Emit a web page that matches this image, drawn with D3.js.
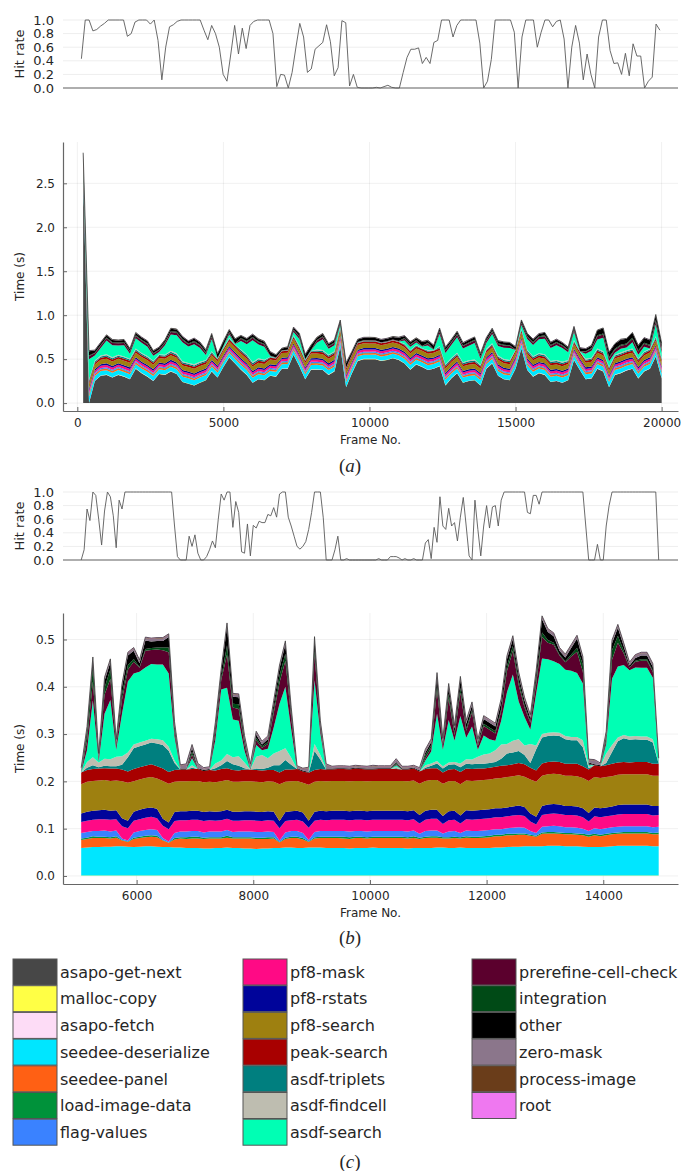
<!DOCTYPE html>
<html>
<head>
<meta charset="utf-8">
<script src="https://cdn.jsdelivr.net/npm/d3@7"></script>
<style>
  body { margin: 0; background: #fff; }
  svg text { font-family: "DejaVu Sans", sans-serif; fill: #262626; }
</style>
</head>
<body>
<svg id="fig" width="682" height="1171"></svg>
<script>
// ---- legend / series names and colours ----
var keys = ["asapo-get-next", "malloc-copy", "asapo-fetch", "seedee-deserialize", "seedee-panel",
  "load-image-data", "flag-values", "pf8-mask", "pf8-rstats", "pf8-search", "peak-search",
  "asdf-triplets", "asdf-findcell", "asdf-search", "prerefine-cell-check", "integration",
  "other", "zero-mask", "process-image", "root"];
var colors = ["#474747", "#ffff45", "#fddcf6", "#00e6ff", "#ff6014", "#00923a", "#3a82ff",
  "#ff0a85", "#00049a", "#9e8010", "#a80000", "#007f7f", "#bebdb0", "#00ffb4", "#5b002d",
  "#004a16", "#000000", "#8b768b", "#6a3d1a", "#ef78f0"];

// ---- panel (a): hit rate, 152 samples between frame 140 and 19940 ----
var hitA = [.43,1,1,.84,.86,.91,.95,1,1,1, 1,1,.76,.8,.97,1,1,1,.94,1,
  .7,.12,.6,.9,.93,.98,1,1,1,1, 1,1,.85,.71,.92,.8,.6,.2,.1,.5,
  .92,.5,.88,.58,.92,.98,1,1,1,1, .8,.02,.2,.19,0,.23,.6,.95,.75,.23,
  .28,.57,.62,.67,.93,.68,.18,.3,.99,.96, .03,.2,.01,0,0,0,0,.01,0,.02,
  .04,.01,0,0,.23,.45,.57,.57,.59,.36, .45,.36,.67,.7,1,1,1,.75,.92,1,
  1,1,1,1,.66,0,.1,.42,1,1, 1,1,1,.82,0,.75,1,1,1,.6,
  .82,1,1,.9,.98,1,.72,0,.6,.92, .66,.12,.5,.2,0,.75,1,1,.55,.36,
  .37,.2,.51,.18,.65,.47,.47,0,.1,.16, .94,.85];

// ---- panel (a): time per stage in ms, frames 200..20000 step 200 ----
var aGetNext = [2600,0,250,310,320,290,320,300,270,390, 340,300,250,330,320,360,330,240,220,200,
  230,260,360,290,410,520,450,380,320,230, 270,260,310,300,390,390,550,420,270,380,
  380,375,320,360,640,180,340,480,500,500, 500,480,490,510,490,450,380,440,410,375,
  390,420,200,280,340,230,250,260,200,390, 450,310,270,260,390,620,375,300,340,320,
  240,250,230,260,490,375,270,280,390,360, 180,320,340,370,390,280,360,390,530,280];
var aMallocCopy = [3,2,2,2,3,2,2,2,2,3, 2,2,2,3,2,2,2,2,2,2, 3,2,2,2,2,3,2,2,2,2, 2,2,3,2,2,2,2,3,2,2,
  2,2,2,2,3,2,2,2,2,2, 2,3,2,2,2,2,2,2,3,2, 2,2,2,2,2,3,2,2,2,2, 3,2,2,2,2,2,2,3,2,2,
  2,2,2,2,3,2,2,2,2,2, 2,3,2,2,2,2,2,2,3,2];
var aAsapoFetch = [2,3,2,2,2,2,3,2,2,2, 2,2,2,2,3,2,2,2,2,2, 2,2,3,2,2,2,2,2,3,2, 2,2,2,2,2,3,2,2,2,2,
  3,2,2,2,2,2,2,3,2,2, 2,2,2,2,3,2,2,2,2,2, 2,2,3,2,2,2,2,2,2,3, 2,2,2,2,2,2,3,2,2,2,
  2,3,2,2,2,2,2,2,3,2, 2,2,2,3,2,2,2,2,2,2];
var aDeserialize = [45,70,55,50,48,50,52,50,55,48, 50,52,55,50,48,50,52,55,58,56,
  55,52,48,55,50,45,48,50,52,55, 55,52,50,52,48,50,45,50,55,50,
  50,48,52,50,45,55,50,48,46,46, 48,46,48,46,48,50,52,50,50,52,
  50,48,60,52,50,55,55,52,58,50, 48,50,52,52,50,45,50,52,50,52,
  55,55,56,54,48,50,55,54,50,50, 58,52,52,50,50,52,50,50,45,52];
var aPanel = [16,20,18,18,17,18,19,18,17,18, 18,19,17,18,18,17,19,18,18,17,
  18,18,19,17,18,19,18,18,17,18, 19,18,18,17,18,18,19,18,17,18,
  18,18,17,18,19,17,18,18,18,17, 18,17,18,18,18,19,18,17,18,18,
  18,19,17,18,18,17,18,19,18,18, 18,18,17,18,18,19,18,18,17,18,
  19,18,18,17,18,18,18,19,18,18, 17,18,18,18,19,18,17,18,18,18];
var aLoadImage = [4,5,4,4,4,5,4,4,4,4, 4,4,5,4,4,4,4,5,4,4, 4,4,4,4,5,4,4,4,4,4, 5,4,4,4,4,4,5,4,4,4,
  4,4,4,5,4,4,4,4,4,5, 4,4,4,4,4,4,5,4,4,4, 4,5,4,4,4,4,4,4,5,4, 4,4,4,4,5,4,4,4,4,4,
  4,4,5,4,4,4,4,4,5,4, 4,4,4,5,4,4,4,4,4,4];
var aFlagValues = [12,15,13,13,14,13,12,13,13,14, 13,13,12,13,14,13,13,12,13,13,
  14,13,13,12,13,13,14,13,13,12, 13,13,14,13,12,13,13,13,14,13,
  13,12,13,13,14,12,13,13,13,13, 12,13,13,13,13,14,13,13,12,13,
  13,13,14,13,13,12,13,13,13,13, 14,13,13,12,13,13,13,14,13,13,
  13,12,13,13,13,14,13,13,12,13, 13,13,14,13,13,12,13,13,14,13];
var aPf8Mask = [24,28,25,25,26,25,24,25,26,25, 25,24,26,25,25,26,24,25,25,26,
  25,25,24,26,25,25,24,25,26,25, 24,25,25,26,25,24,25,26,25,25,
  26,25,24,25,25,27,25,24,25,25, 25,24,25,25,26,25,25,24,25,26,
  25,25,24,25,26,25,25,24,26,25, 25,26,25,24,25,25,26,25,24,25,
  25,26,25,25,24,25,25,26,25,25, 24,25,26,25,25,24,25,25,26,25];
var aPf8Rstats = [16,19,17,17,18,17,16,17,18,17, 17,18,17,16,17,18,17,17,16,17,
  18,17,17,16,17,18,17,17,17,16, 17,18,17,17,16,17,18,17,17,17,
  16,17,18,17,17,18,17,16,17,17, 17,18,17,17,16,17,17,18,17,17,
  16,17,17,18,17,17,16,17,18,17, 17,17,16,17,18,17,17,17,16,17,
  18,17,17,16,17,17,18,17,17,16, 17,17,18,17,16,17,17,18,17,17];
var aPf8Search = [50,55,52,52,53,52,51,52,53,52, 52,53,51,52,52,53,52,51,52,53,
  52,52,53,51,52,52,53,52,51,52, 53,52,52,51,52,53,52,52,51,52,
  52,53,52,51,52,54,52,52,53,52, 51,52,52,53,52,52,51,52,53,52,
  52,51,53,52,52,53,52,51,52,52, 53,52,52,51,52,53,52,52,51,52,
  52,53,52,52,51,52,52,53,52,51, 52,52,53,52,52,51,52,53,52,52];
var aPeakSearch = [21,24,22,22,23,22,21,22,22,23, 22,22,21,22,23,22,22,21,22,22,
  23,22,22,21,22,22,23,22,22,21, 22,23,22,22,21,22,22,23,22,22,
  21,22,22,23,22,22,21,22,22,23, 22,22,21,22,22,23,22,22,21,22,
  22,23,22,22,21,22,22,23,22,22, 21,22,22,22,23,22,22,21,22,22,
  23,22,22,21,22,22,22,23,22,22, 21,22,22,23,22,22,21,22,22,22];
var aTriplets = [4,15,14,15,16,15,15,16,14,15, 15,16,14,12,15,16,17,16,15,17,
  16,14,15,5,6,12,5,15,16,18, 16,15,6,4,4,4,10,14,5,5,
  14,15,14,14,12,4,4,4,4,4, 4,4,4,4,4,10,10,10,5,12,
  5,15,16,15,16,15,16,17,12,12, 15,15,16,15,4,12,15,16,16,17,
  16,17,16,14,15,4,13,14,15,16, 14,13,14,13,15,14,14,12,16,14];
var aFindcell = [3,10,10,10,11,10,10,10,9,10, 10,10,9,8,10,11,12,11,10,12,
  11,9,10,3,4,8,3,10,10,12, 11,10,4,3,3,3,8,10,3,3,
  10,10,10,10,8,3,3,3,3,3, 3,3,3,3,3,8,8,8,3,9,
  3,10,11,10,11,10,11,12,9,9, 10,10,11,10,3,8,10,10,11,12,
  11,12,11,10,10,3,9,10,10,11, 10,9,10,9,10,10,10,8,11,10];
var aAsdfSearch = [0,232,57,87,157,137,107,127,57,117, 117,107,57,27,107,187,207,217,187,227,
  157,57,137,5,20,37,10,97,117,247, 157,147,10,0,0,0,37,77,10,5,
  77,122,67,67,27,0,0,0,0,0, 0,0,0,0,0,37,37,27,20,52,
  5,137,127,147,177,157,167,187,67,67, 107,107,127,137,0,47,122,127,157,177,
  147,167,157,87,92,0,57,77,103,153, 63,23,43,33,73,43,53,3,133,63];
var aPrerefine = [3,35,25,25,26,25,25,26,24,25, 25,26,24,22,25,27,28,27,26,28,
  26,24,25,3,3,22,3,25,26,28, 26,25,3,3,3,3,22,25,3,3,
  25,26,24,24,22,3,3,3,3,3, 3,3,3,3,3,20,20,20,3,22,
  3,26,27,26,27,26,27,28,24,24, 25,25,26,25,3,22,25,26,27,28,
  26,27,26,24,25,3,24,25,35,36, 34,33,35,34,36,35,34,33,37,35];
var aIntegration = [2,8,8,8,9,8,8,9,7,8, 8,9,7,6,8,9,10,9,8,10,
  9,7,8,2,2,6,2,8,9,10, 9,8,2,2,2,2,6,8,2,2,
  8,9,7,7,6,2,2,2,2,2, 2,2,2,2,2,6,6,6,2,7,
  2,8,9,8,9,8,9,10,7,7, 8,8,9,8,2,6,8,9,9,10,
  9,10,9,8,8,2,7,8,12,13, 12,11,12,11,13,12,12,10,14,12];
var aOther = [38,50,24,26,25,27,24,26,23,27, 25,26,24,22,25,28,27,26,25,28,
  26,24,27,43,48,24,48,25,26,28, 26,25,38,28,18,28,24,26,48,53,
  25,27,24,26,22,48,28,28,28,30, 28,27,28,29,38,24,25,23,48,25,
  43,27,26,25,27,26,28,27,24,25, 26,25,27,26,28,24,26,27,25,28,
  26,27,25,24,26,33,24,25,55,58, 52,54,56,53,57,55,54,52,58,55];
var aZeroMask = [3,4,3,3,3,4,3,3,3,3, 4,3,3,3,3,4,3,3,3,3, 3,4,3,3,3,3,4,3,3,3, 3,3,4,3,3,3,3,4,3,3,
  3,3,3,4,3,3,3,3,4,3, 3,3,3,3,4,3,3,3,3,4, 3,3,3,3,3,4,3,3,3,3, 4,3,3,3,3,3,4,3,3,3,
  3,4,3,3,3,3,3,4,3,3, 3,3,4,3,3,3,3,3,4,3];
var aProcessImage = [1,1,1,1,1,1,1,1,1,1, 1,1,1,1,1,1,1,1,1,1, 1,1,1,1,1,1,1,1,1,1, 1,1,1,1,1,1,1,1,1,1,
  1,1,1,1,1,1,1,1,1,1, 1,1,1,1,1,1,1,1,1,1, 1,1,1,1,1,1,1,1,1,1, 1,1,1,1,1,1,1,1,1,1,
  1,1,1,1,1,1,1,1,1,1, 1,1,1,1,1,1,1,1,1,1];
var aRoot = [1,1,1,1,1,1,1,1,1,1, 1,1,1,1,1,1,1,1,1,1, 1,1,1,1,1,1,1,1,1,1, 1,1,1,1,1,1,1,1,1,1,
  1,1,1,1,1,1,1,1,1,1, 1,1,1,1,1,1,1,1,1,1, 1,1,1,1,1,1,1,1,1,1, 1,1,1,1,1,1,1,1,1,1,
  1,1,1,1,1,1,1,1,1,1, 1,1,1,1,1,1,1,1,1,1];

// ---- panel (b): hit rate, frames 5050..14950 step 50 ----
var hitB = [0,.15,.75,.58,1,.95,.6,.22,.72,1, .93,.65,.18,.88,.75,1,1,1,1,1,
  1,1,1,1,1,1,1,1,1,1, 1,1,.5,.05,0,0,0,.35,.2,.37,
  .1,0,0,.05,.15,.28,.18,.6,.97,.88, 1,1,.48,.86,.7,.12,.1,.53,.06,.51,
  .47,.57,.55,.55,.67,.65,.77,.63,.97,1, 1,.63,.5,.35,.2,.16,.2,.27,.45,.7,
  1,1,1,.62,0,0,0,.15,.35,0, 0,.02,0,0,0,0,0,0,0,0,
  0,0,.02,0,0,0,.05,.05,.05,.03, 0,.02,0,0,.02,0,0,0,.25,.3,
  .02,.48,.26,.93,.5,.45,.76,.5,.55,.28, .63,.92,.5,.06,0,.88,.45,.06,.5,.8,
  .47,.78,.8,.5,.88,1,1,1,1,1, 1,1,1,.7,.68,.95,.95,.82,1,1,
  1,1,1,1,1,1,1,1,1,1, 1,1,1,.5,0,0,0,.23,0,0,
  .5,.8,1,1,1,1,1,1,1,1, 1,1,1,1,1,1,1,1,0];

// ---- panel (b): time per stage in ms, frames 5050..14950 step 100 ----
var bGetNext = [0,0,0,0,0,0,0,0,0,0, 0,0,0,0,0,0,0,0,0,0, 0,0,0,0,0,0,0,0,0,0, 0,0,0,0,0,0,0,0,0,0,
  0,0,0,0,0,0,0,0,0,0, 0,0,0,0,0,0,0,0,0,0, 0,0,0,0,0,0,0,0,0,0, 0,0,0,0,0,0,0,0,0,0,
  0,0,0,0,0,0,0,0,0,0, 0,0,0,0,0,0,0,0,0,0];
var bMallocCopy = [1,1,1,1,1,1,1,1,1,1, 1,1,1,1,1,1,1,1,1,1, 1,1,1,1,1,1,1,1,1,1, 1,1,1,1,1,1,1,1,1,1,
  1,1,1,1,1,1,1,1,1,1, 1,1,1,1,1,1,1,1,1,1, 1,1,1,1,1,1,1,1,1,1, 1,1,1,1,1,1,1,1,1,1,
  1,1,1,1,1,1,1,1,1,1, 1,1,1,1,1,1,1,1,1,1];
var bAsapoFetch = [0,0,0,0,0,0,0,0,0,0, 0,0,0,0,0,0,0,0,0,0, 0,0,0,0,0,0,0,0,0,0, 0,0,0,0,0,0,0,0,0,0,
  0,0,0,0,0,0,0,0,0,0, 0,0,0,0,0,0,0,0,0,0, 0,0,0,0,0,0,0,0,0,0, 0,0,0,0,0,0,0,0,0,0,
  0,0,0,0,0,0,0,0,0,0, 0,0,0,0,0,0,0,0,0,0];
var bDeserialize = [58,59,60,60,61,61,62,62,61,60, 61,62,62,61,60,60,59,59,58,58,
  58,57,57,58,58,59,58,58,57,57, 56,57,57,58,58,59,59,58,58,59,
  59,59,58,58,58,58,57,58,58,58, 59,58,58,58,58,58,57,58,58,58,
  58,59,59,58,58,59,58,58,58,58, 58,59,59,60,61,61,62,62,62,62,
  63,63,63,62,62,62,61,60,60,60, 61,62,63,63,63,63,63,63,62,62];
var bPanel = [17,18,19,19,18,17,18,12,10,17, 18,19,20,20,14,9,17,19,19,20,
  20,20,21,20,20,21,20,20,21,21, 21,20,20,20,12,18,20,21,18,12,
  19,20,21,21,21,20,20,21,21,20, 20,21,21,21,21,21,21,21,19,21,
  22,21,19,20,21,19,22,21,21,22, 23,24,24,25,24,25,24,22,20,26,
  26,26,25,25,25,24,24,22,25,23, 24,25,25,26,26,26,26,26,25,25];
var bLoadImage = [3,3,4,3,3,3,3,1,1,3, 3,3,3,3,1,1,3,3,4,4, 4,3,3,3,3,4,3,3,3,3, 3,3,4,3,1,3,3,3,3,1,
  3,3,3,3,3,4,4,3,3,3, 3,3,3,3,3,3,3,4,3,3, 3,3,3,3,3,3,3,3,3,3, 3,3,3,3,3,3,3,2,2,3,
  3,3,3,3,3,3,3,4,3,3, 3,3,3,3,3,3,3,3,3,4];
var bFlagValues = [12,12,11,12,13,12,12,3,2,11, 12,12,13,12,4,2,11,12,12,12,
  12,11,12,12,12,12,11,12,12,12, 12,12,12,11,3,11,12,12,11,3,
  11,12,12,12,12,12,12,12,12,12, 12,12,12,12,12,12,12,12,8,12,
  12,12,8,12,12,9,12,12,12,12, 12,12,12,12,13,13,12,8,6,12,
  12,13,13,12,12,12,11,8,12,12, 12,12,12,12,12,12,12,12,12,12];
var bPf8Mask = [23,24,24,25,24,25,24,26,26,25, 25,26,26,25,26,26,25,24,24,24,
  24,24,24,23,24,24,24,23,24,24, 24,23,24,24,26,24,23,24,24,26,
  24,24,23,24,24,24,24,24,24,24, 24,24,24,24,24,24,24,24,22,24,
  25,25,20,24,24,20,24,24,25,25, 25,25,25,25,26,26,25,20,18,25,
  26,26,26,26,26,26,24,20,25,25, 25,25,26,26,26,26,26,26,25,25];
var bPf8Rstats = [18,19,19,19,20,19,19,17,16,19, 20,20,20,20,15,14,19,19,19,19,
  19,19,19,19,19,19,19,19,19,19, 19,19,19,19,15,19,19,19,19,15,
  19,19,19,19,19,19,19,19,19,19, 19,19,19,19,19,19,19,19,18,19,
  19,19,17,19,19,17,19,19,19,19, 19,19,19,19,19,20,19,17,16,19,
  20,20,20,19,19,19,19,18,19,19, 19,19,20,20,20,20,20,20,20,19];
var bPf8Search = [62,63,63,63,63,63,63,78,80,64, 64,64,64,64,80,82,64,63,63,63,
  63,63,62,62,63,63,63,63,63,63, 63,63,63,63,78,64,63,63,63,76,
  63,63,63,63,63,63,63,63,63,63, 63,63,63,63,63,63,63,63,66,63,
  63,63,68,63,63,66,63,63,63,63, 63,63,64,64,64,64,64,72,74,64,
  64,64,64,64,64,64,64,68,64,64, 64,64,64,64,64,64,64,64,64,64];
var bPeakSearch = [25,25,25,25,25,26,25,25,24,26, 26,26,27,26,26,25,25,25,25,25,
  25,24,25,25,26,25,25,24,25,25, 25,25,24,25,25,26,25,25,24,25,
  25,25,25,24,25,25,25,26,25,25, 24,25,25,25,25,24,25,25,26,25,
  25,25,24,25,25,26,25,25,25,24, 25,25,26,25,25,26,26,25,24,26,
  26,26,26,25,25,26,25,24,25,25, 25,26,26,26,25,26,26,26,25,25];
var bTriplets = [0,5,8,3,5,5,5,10,30,44, 44,45,46,48,50,45,15,0,0,3,
  0,0,0,5,8,15,12,10,3,0, 3,3,5,10,15,20,10,0,0,0,
  40,20,0,0,0,0,0,0,0,0, 0,0,0,0,2,0,0,0,0,3,
  5,10,8,10,10,10,10,10,10,10, 10,10,15,25,25,25,20,10,45,55,
  55,55,55,52,50,50,40,3,0,0, 5,25,45,50,48,48,47,47,45,0];
var bFindcell = [0,12,17,10,15,15,20,18,10,8, 8,8,8,9,10,8,5,0,0,5,
  0,0,0,10,10,15,15,20,12,0, 25,30,20,25,30,25,15,0,0,0,
  15,10,0,0,0,0,0,0,0,0, 0,0,0,0,3,0,0,0,0,5,
  5,5,5,5,5,8,10,10,15,20, 20,25,30,20,25,25,20,40,8,7,
  7,7,7,7,7,7,15,4,0,0, 20,15,8,7,7,7,7,7,7,0];
var bAsdfSearch = [0,25,120,2,95,125,15,90,150,150, 150,155,158,158,160,155,50,0,0,15,
  0,0,0,50,150,140,80,75,25,0, 25,10,20,55,100,130,60,0,0,0,
  135,45,0,0,0,0,0,0,0,0, 0,0,0,0,3,0,0,0,0,10,
  25,100,35,90,45,100,45,70,15,40, 30,20,50,110,140,80,60,30,110,160,
  155,150,145,140,140,135,120,3,0,0, 20,140,150,148,140,145,145,145,130,0];
var bPrerefine = [0,20,40,5,40,45,8,30,25,25, 8,35,30,32,30,45,10,0,0,8,
  0,0,0,15,20,70,25,25,12,0, 10,5,10,30,45,55,25,0,0,0,
  55,10,0,0,0,0,0,0,0,0, 0,0,0,0,2,0,0,0,0,5,
  8,50,8,45,12,50,15,30,8,20, 20,15,20,45,50,35,20,15,20,45,
  35,35,18,16,30,45,25,2,0,0, 8,40,50,25,5,12,15,15,12,0];
var bIntegration = [0,13,30,2,15,20,4,12,10,6, 2,4,4,4,6,10,5,0,0,6,
  0,0,0,5,5,20,8,10,5,0, 5,3,4,8,15,15,5,0,0,0,
  10,3,0,0,0,0,0,0,0,0, 0,0,0,0,3,0,0,0,0,7,
  6,10,4,10,5,10,5,5,3,5, 5,5,5,10,10,8,5,3,10,10,
  6,4,2,2,4,8,15,1,0,0, 7,20,15,5,1,2,3,3,3,0];
var bOther = [2,10,15,3,15,15,3,15,20,17, 8,18,14,14,14,22,10,2,2,8,
  2,2,2,10,12,40,15,15,8,2, 7,4,6,12,15,20,10,2,2,2,
  20,7,2,2,2,2,2,2,2,2, 2,2,2,2,2,2,2,2,2,5,
  6,20,5,15,8,17,10,10,4,10, 10,10,15,15,15,12,10,7,12,28,
  17,14,8,8,14,20,10,2,2,2, 5,15,17,10,4,6,8,8,8,2];
var bZeroMask = [6,5,5,5,5,5,5,5,5,5, 5,5,5,5,5,5,5,6,8,5, 8,3,3,5,5,5,5,5,5,8, 5,5,5,5,5,5,5,3,3,8,
  5,5,8,3,3,3,3,3,3,3, 5,3,3,3,5,3,3,3,4,5, 5,5,5,5,5,5,5,5,5,5, 5,5,5,5,5,5,5,5,5,5,
  5,5,5,5,5,5,5,5,8,3, 5,5,5,5,5,5,5,5,5,8];
var bProcessImage = [1,1,1,1,1,1,1,1,1,1, 1,1,1,1,1,1,1,1,1,1, 1,1,1,1,1,1,1,1,1,1, 1,1,1,1,1,1,1,1,1,1,
  1,1,1,1,1,1,1,1,1,1, 1,1,1,1,1,1,1,1,1,1, 1,1,1,1,1,1,1,1,1,1, 1,1,1,1,1,1,1,1,1,1,
  1,1,1,1,1,1,1,1,1,1, 1,1,1,1,1,1,1,1,1,1];
var bRoot = [1,1,1,1,1,1,1,1,1,1, 1,1,1,1,1,1,1,1,1,1, 1,1,1,1,1,1,1,1,1,1, 1,1,1,1,1,1,1,1,1,1,
  1,1,1,1,1,1,1,1,1,1, 1,1,1,1,1,1,1,1,1,1, 1,1,1,1,1,1,1,1,1,1, 1,1,1,1,1,1,1,1,1,1,
  1,1,1,1,1,1,1,1,1,1, 1,1,1,1,1,1,1,1,1,1];

var framesA = d3.range(200, 20001, 200);
var framesB = d3.range(5050, 14951, 100);
var hitFramesA = d3.range(hitA.length).map(function(i) { return 140 + i * 19800 / (hitA.length - 1); });
var hitFramesB = d3.range(5050, 14951, 50);

var colsA = [aGetNext, aMallocCopy, aAsapoFetch, aDeserialize, aPanel, aLoadImage, aFlagValues,
  aPf8Mask, aPf8Rstats, aPf8Search, aPeakSearch, aTriplets, aFindcell, aAsdfSearch,
  aPrerefine, aIntegration, aOther, aZeroMask, aProcessImage, aRoot];
var colsB = [bGetNext, bMallocCopy, bAsapoFetch, bDeserialize, bPanel, bLoadImage, bFlagValues,
  bPf8Mask, bPf8Rstats, bPf8Search, bPeakSearch, bTriplets, bFindcell, bAsdfSearch,
  bPrerefine, bIntegration, bOther, bZeroMask, bProcessImage, bRoot];

var svg = d3.select("#fig");
svg.append("rect").attr("width", 682).attr("height", 1171).attr("fill", "#fff");

function table(frames, cols) {
  return frames.map(function(f, i) {
    var r = { frame: f };
    keys.forEach(function(k, j) { r[k] = cols[j][i] / 1000; });
    return r;
  });
}

var left = 63, right = 678;

// hit-rate strip above each stacked chart
function drawHit(frames, rates, x, top) {
  var y = d3.scaleLinear().domain([0, 1]).range([top + 68, top]);
  var g = svg.append("g");
  var ticks = [0, 0.2, 0.4, 0.6, 0.8, 1.0];
  g.selectAll("line.grid").data(ticks).enter().append("line")
    .attr("x1", left).attr("x2", right)
    .attr("y1", function(d) { return y(d); }).attr("y2", function(d) { return y(d); })
    .attr("stroke", "#000").attr("stroke-opacity", 0.07);
  var ax = g.append("g").attr("transform", "translate(" + left + ",0)")
    .call(d3.axisLeft(y).tickValues(ticks).tickFormat(d3.format(".1f")).tickSize(0).tickPadding(9));
  ax.select(".domain").remove();
  ax.selectAll("text").style("font-size", "13px").attr("fill", "#262626");
  g.append("line").attr("x1", left).attr("x2", right).attr("y1", y(0)).attr("y2", y(0))
    .attr("stroke", "#666").attr("stroke-width", 1.2);
  g.append("path").datum(rates)
    .attr("fill", "none").attr("stroke", "#5a5a5a").attr("stroke-width", 0.9)
    .attr("d", d3.line().x(function(d, i) { return x(frames[i]); }).y(function(d) { return y(d); }));
  g.append("text").attr("transform", "translate(19," + (top + 34) + ") rotate(-90)")
    .attr("text-anchor", "middle").attr("dy", "0.35em").style("font-size", "13px").text("Hit rate");
}

function drawStack(data, x, y, xTicks, yTicks, top, bottom) {
  var g = svg.append("g");
  g.selectAll("line.hg").data(yTicks).enter().append("line")
    .attr("x1", left).attr("x2", right)
    .attr("y1", function(d) { return y(d); }).attr("y2", function(d) { return y(d); })
    .attr("stroke", "#000").attr("stroke-opacity", 0.06);
  g.selectAll("line.vg").data(xTicks).enter().append("line")
    .attr("y1", top).attr("y2", bottom)
    .attr("x1", function(d) { return x(d); }).attr("x2", function(d) { return x(d); })
    .attr("stroke", "#000").attr("stroke-opacity", 0.06);

  var series = d3.stack().keys(keys)(data);
  var area = d3.area()
    .x(function(d) { return x(d.data.frame); })
    .y0(function(d) { return y(d[0]); })
    .y1(function(d) { return y(d[1]); });
  g.selectAll("path.layer").data(series).enter().append("path")
    .attr("class", "layer")
    .attr("fill", function(d, i) { return colors[i]; })
    .attr("d", area);
  var topLine = d3.line()
    .x(function(d) { return x(d.data.frame); })
    .y(function(d) { return y(d[1]); });
  g.append("path").datum(series[series.length - 1])
    .attr("fill", "none").attr("stroke", "#3a3a3a").attr("stroke-width", 0.8).attr("d", topLine);

  var ay = g.append("g").attr("transform", "translate(" + left + ",0)")
    .call(d3.axisLeft(y).tickValues(yTicks).tickFormat(d3.format(".1f")).tickSize(-4).tickSizeOuter(0).tickPadding(8));
  var ax = g.append("g").attr("transform", "translate(0," + bottom + ")")
    .call(d3.axisBottom(x).tickValues(xTicks).tickFormat(d3.format("d")).tickSize(-4).tickSizeOuter(0).tickPadding(7));
  [ax, ay].forEach(function(a) {
    a.select(".domain").attr("stroke", "#666").attr("stroke-width", 1.2);
    a.selectAll(".tick line").attr("stroke", "#666");
    a.selectAll("text").style("font-size", "12px").attr("fill", "#262626");
  });
  g.append("text").attr("x", (left + right) / 2).attr("y", bottom + 33)
    .attr("text-anchor", "middle").style("font-size", "12px").text("Frame No.");
  g.append("text").attr("transform", "translate(20," + ((top + bottom) / 2) + ") rotate(-90)")
    .attr("text-anchor", "middle").attr("dy", "0.35em").style("font-size", "12px").text("Time (s)");
}

function caption(letter, yBase) {
  var t = svg.append("text").attr("x", 350).attr("y", yBase).attr("text-anchor", "middle")
    .style("font-family", "'Liberation Serif', serif").style("font-size", "19px");
  t.append("tspan").text("(");
  t.append("tspan").style("font-style", "italic").text(letter);
  t.append("tspan").text(")");
}

// panel (a)
var xA = d3.scaleLinear().domain([-490, 20560]).range([left, right]);
var yA = d3.scaleLinear().domain([-0.09, 2.97]).range([411, 142]);
drawHit(hitFramesA, hitA, xA, 20);
drawStack(table(framesA, colsA), xA, yA, [0, 5000, 10000, 15000, 20000], [0, 0.5, 1, 1.5, 2, 2.5], 142, 411);
caption("a", 472);

// panel (b)
var xB = d3.scaleLinear().domain([4738, 15281]).range([left, right]);
var yB = d3.scaleLinear().domain([-0.017, 0.556]).range([884, 613]);
drawHit(hitFramesB, hitB, xB, 492);
drawStack(table(framesB, colsB), xB, yB, [6000, 8000, 10000, 12000, 14000], [0, 0.1, 0.2, 0.3, 0.4, 0.5], 613, 884);
caption("b", 944);

// legend (c)
var legX = [13, 243, 472];
var leg = svg.append("g");
keys.forEach(function(k, i) {
  var col = Math.floor(i / 7), row = i % 7;
  var yy = 959 + row * 26.7;
  leg.append("rect").attr("x", legX[col]).attr("y", yy).attr("width", 44).attr("height", 26)
    .attr("fill", colors[i]).attr("stroke", "#555").attr("stroke-width", 1);
  leg.append("text").attr("x", legX[col] + 47).attr("y", yy + 13).attr("dy", "0.36em")
    .style("font-size", "16px").attr("fill", "#222").text(k);
});
caption("c", 1168);
</script>
</body>
</html>
